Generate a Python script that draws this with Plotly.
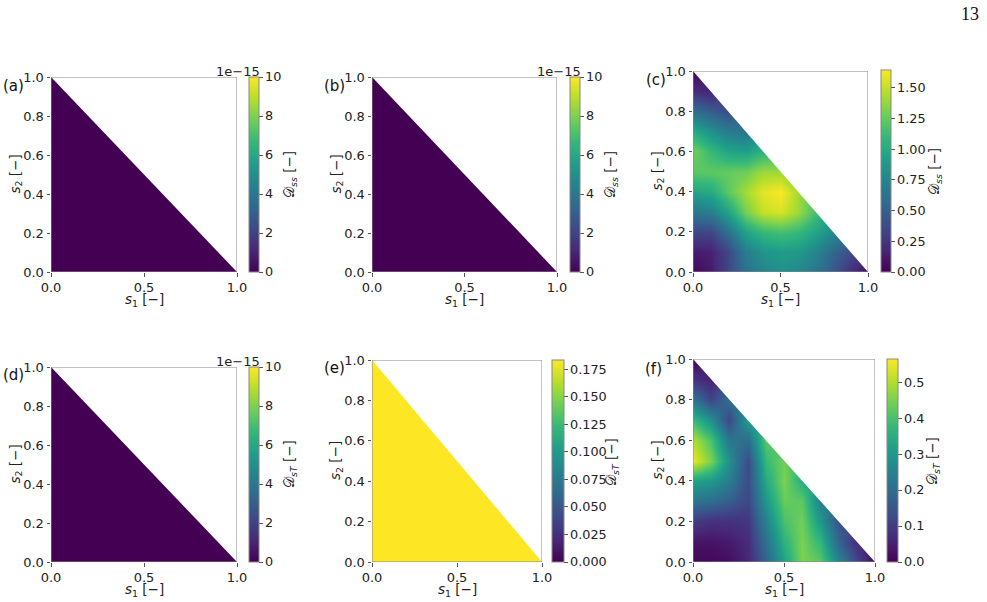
import plotly.graph_objects as go

W, H = 987, 602

# ---------------- data ----------------
S1 = [0.0, 0.1, 0.2, 0.3, 0.4, 0.5, 0.6, 0.7, 0.8, 0.9, 1.0]
S2 = [0.0, 0.1, 0.2, 0.3, 0.4, 0.5, 0.6, 0.7, 0.8, 0.9, 1.0]
EDGE = [0.0, 1.0]

# panels (a), (b), (d): values in units of 1e-15 (all zero)
Z_A = [[0.0, 0.0], [0.0, 0.0]]
Z_B = [[0.0, 0.0], [0.0, 0.0]]
Z_D = [[0.0, 0.0], [0.0, 0.0]]
# panel (e): constant field
Z_E = [[0.1833, 0.1833], [0.1833, 0.1833]]

# panel (c): D_ss, rows = s2, columns = s1 (None outside s1+s2<=1)
Z_C = [
    [0.02, 0.12, 0.35, 0.60, 0.75, 0.82, 0.78, 0.65, 0.45, 0.22, 0.02],
    [0.12, 0.15, 0.35, 0.70, 0.85, 0.90, 0.88, 0.75, 0.55, 0.38, None],
    [0.35, 0.35, 0.60, 0.95, 1.10, 1.15, 1.10, 0.95, 0.78, None, None],
    [0.65, 0.70, 0.95, 1.30, 1.50, 1.55, 1.40, 1.15, None, None, None],
    [0.95, 1.00, 1.22, 1.42, 1.58, 1.64, 1.42, None, None, None, None],
    [1.22, 1.22, 1.25, 1.28, 1.40, 1.40, None, None, None, None, None],
    [1.28, 1.10, 0.95, 0.92, 1.05, None, None, None, None, None, None],
    [1.00, 0.82, 0.68, 0.62, None, None, None, None, None, None, None],
    [0.60, 0.48, 0.38, None, None, None, None, None, None, None, None],
    [0.22, 0.15, None, None, None, None, None, None, None, None, None],
    [0.00, None, None, None, None, None, None, None, None, None, None],
]

# panel (f): D_sT
Z_F = [
    [0.01, 0.01, 0.02, 0.06, 0.18, 0.32, 0.45, 0.42, 0.25, 0.12, 0.00],
    [0.03, 0.03, 0.04, 0.07, 0.21, 0.36, 0.45, 0.37, 0.18, 0.07, None],
    [0.10, 0.08, 0.08, 0.09, 0.25, 0.40, 0.44, 0.30, 0.14, None, None],
    [0.22, 0.20, 0.17, 0.12, 0.30, 0.43, 0.42, 0.25, None, None, None],
    [0.32, 0.30, 0.24, 0.13, 0.34, 0.45, 0.35, None, None, None, None],
    [0.55, 0.45, 0.28, 0.13, 0.38, 0.44, None, None, None, None, None],
    [0.50, 0.40, 0.22, 0.20, 0.42, None, None, None, None, None, None],
    [0.38, 0.28, 0.12, 0.32, None, None, None, None, None, None, None],
    [0.22, 0.12, 0.20, None, None, None, None, None, None, None, None],
    [0.08, 0.05, None, None, None, None, None, None, None, None, None],
    [0.00, None, None, None, None, None, None, None, None, None, None],
]

X_TICKS = [0.0, 0.5, 1.0]
Y_TICKS = [0.0, 0.2, 0.4, 0.6, 0.8, 1.0]
CB_TICKS_E15 = [0, 2, 4, 6, 8, 10]
CB_TICKS_C = [0.0, 0.25, 0.5, 0.75, 1.0, 1.25, 1.5]
CB_TICKS_E = [0.0, 0.025, 0.05, 0.075, 0.1, 0.125, 0.15, 0.175]
CB_TICKS_F = [0.0, 0.1, 0.2, 0.3, 0.4, 0.5]
LABELS = ["(a)", "(b)", "(c)", "(d)", "(e)", "(f)"]
CB_TITLES = ["ss", "ss", "ss", "sT", "sT", "sT"]

# ---------------- layout geometry (pixels) ----------------
FONT = "DejaVu Sans"
FS = 13.0
TXT = "#222222"
SPINE = "#888888"

panels = [
    dict(x=EDGE, y=EDGE, z=Z_A, zmax=10.0, tv=CB_TICKS_E15, tt=[str(v) for v in CB_TICKS_E15],
         px0=51, px1=237, py0=77, py1=272, cbx=249, cbw=10, cby0=77, cby1=272, exp=True,
         lab=(26, 86), ttl=(290, 175)),
    dict(x=EDGE, y=EDGE, z=Z_B, zmax=10.0, tv=CB_TICKS_E15, tt=[str(v) for v in CB_TICKS_E15],
         px0=372, px1=557, py0=77, py1=272, cbx=570, cbw=10, cby0=77, cby1=272, exp=True,
         lab=(347, 86), ttl=(611, 175)),
    dict(x=S1, y=S2, z=Z_C, zmax=1.644, tv=CB_TICKS_C, tt=["%.2f" % v for v in CB_TICKS_C],
         px0=693, px1=868, py0=71, py1=272, cbx=881, cbw=10, cby0=70, cby1=272, exp=False,
         lab=(668, 80), ttl=(935, 172)),
    dict(x=EDGE, y=EDGE, z=Z_D, zmax=10.0, tv=CB_TICKS_E15, tt=[str(v) for v in CB_TICKS_E15],
         px0=51, px1=237, py0=367, py1=562, cbx=249, cbw=10, cby0=367, cby1=562, exp=True,
         lab=(26, 375), ttl=(290, 464)),
    dict(x=EDGE, y=EDGE, z=Z_E, zmax=0.1833, tv=CB_TICKS_E, tt=["%.3f" % v for v in CB_TICKS_E],
         px0=372, px1=542, py0=360, py1=562, cbx=552, cbw=12, cby0=360, cby1=562, exp=False,
         lab=(347, 368), ttl=(612, 462)),
    dict(x=S1, y=S2, z=Z_F, zmax=0.564, tv=CB_TICKS_F, tt=["%.1f" % v for v in CB_TICKS_F],
         px0=693, px1=875, py0=359, py1=562, cbx=887, cbw=11, cby0=359, cby1=562, exp=False,
         lab=(664, 369), ttl=(933, 461)),
]


def fx(p):
    return p / W


def fy(p):
    return 1 - p / H


fig = go.Figure()
shapes = []
annotations = []
layout = {}

for i, p in enumerate(panels):
    sfx = "" if i == 0 else str(i + 1)
    fig.add_trace(go.Heatmap(
        x=p["x"], y=p["y"], z=p["z"],
        xaxis="x" + sfx, yaxis="y" + sfx,
        colorscale="Viridis", zmin=0.0, zmax=p["zmax"],
        zsmooth="best", connectgaps=True, hoverinfo="skip",
        colorbar=dict(
            x=fx(p["cbx"]), xanchor="left", xpad=0,
            y=fy(p["cby0"]), yanchor="top", ypad=0,
            len=(p["cby1"] - p["cby0"]) / H, lenmode="fraction",
            thickness=p["cbw"], thicknessmode="pixels",
            outlinewidth=1, outlinecolor=SPINE,
            ticks="outside", ticklen=3.5, tickwidth=1, tickcolor="#555555",
            tickvals=p["tv"], ticktext=p["tt"],
            tickfont=dict(family=FONT, size=12.8, color=TXT),
        ),
    ))
    layout["xaxis" + sfx] = dict(
        domain=[fx(p["px0"]), fx(p["px1"])], range=[0, 1], anchor="y" + sfx,
        tickvals=X_TICKS, ticktext=["%.1f" % v for v in X_TICKS],
        ticks="outside", ticklen=3.5, tickwidth=1, tickcolor="#555555",
        showgrid=False, zeroline=False, showline=False, fixedrange=True, automargin=False,
        tickfont=dict(family=FONT, size=FS, color=TXT),
    )
    layout["yaxis" + sfx] = dict(
        domain=[fy(p["py1"]), fy(p["py0"])], range=[0, 1], anchor="x" + sfx,
        tickvals=Y_TICKS, ticktext=["%.1f" % v for v in Y_TICKS],
        ticks="outside", ticklen=3.5, tickwidth=1, tickcolor="#555555",
        showgrid=False, zeroline=False, showline=False, fixedrange=True, automargin=False,
        tickfont=dict(family=FONT, size=FS, color=TXT),
    )
    # mask region s1 + s2 > 1
    shapes.append(dict(type="path", path="M 0,1 L 1,1 L 1,0 Z",
                       xref="x" + sfx, yref="y" + sfx,
                       fillcolor="white", line=dict(width=0), layer="above"))
    # frame
    shapes.append(dict(type="rect", x0=0, x1=1, y0=0, y1=1,
                       xref="x" + sfx, yref="y" + sfx,
                       line=dict(color=SPINE, width=1), fillcolor="rgba(0,0,0,0)",
                       layer="above"))
    # panel label
    annotations.append(dict(text=LABELS[i], x=fx(p["lab"][0]), y=fy(p["lab"][1]),
                            xref="paper", yref="paper", xanchor="right", yanchor="middle",
                            showarrow=False, font=dict(family=FONT, size=FS + 2, color="#111111")))
    # axis titles
    annotations.append(dict(text="<i>s</i><sub>1</sub> [−]",
                            x=fx((p["px0"] + p["px1"]) / 2), y=fy(p["py1"] + 28),
                            xref="paper", yref="paper", xanchor="center", yanchor="middle",
                            showarrow=False, font=dict(family=FONT, size=FS + 0.5, color=TXT)))
    annotations.append(dict(text="<i>s</i><sub>2</sub> [−]",
                            x=fx(p["px0"] - 36), y=fy((p["py0"] + p["py1"]) / 2),
                            xref="paper", yref="paper", xanchor="center", yanchor="middle",
                            textangle=-90,
                            showarrow=False, font=dict(family=FONT, size=FS + 0.5, color=TXT)))
    # colorbar title
    annotations.append(dict(text="𝒟<sub><i>" + CB_TITLES[i] + "</i></sub> [−]",
                            x=fx(p["ttl"][0]), y=fy(p["ttl"][1]),
                            xref="paper", yref="paper", xanchor="center", yanchor="middle",
                            textangle=-90,
                            showarrow=False, font=dict(family=FONT, size=FS + 0.5, color=TXT)))
    if p["exp"]:
        annotations.append(dict(text="1e−15", x=fx(p["cbx"] + p["cbw"] / 2 - 16), y=fy(p["cby0"] - 6),
                                xref="paper", yref="paper", xanchor="center", yanchor="middle",
                                showarrow=False, font=dict(family=FONT, size=FS, color=TXT)))

annotations.append(dict(text="13", x=fx(970), y=fy(14), xref="paper", yref="paper",
                        xanchor="center", yanchor="middle", showarrow=False,
                        font=dict(family="Liberation Serif", size=18, color="#111111")))

fig.update_layout(
    width=W, height=H, margin=dict(l=0, r=0, t=0, b=0, autoexpand=False),
    paper_bgcolor="white", plot_bgcolor="white",
    showlegend=False, shapes=shapes, annotations=annotations,
    **layout,
)

fig.write_html("out.html", config={"displayModeBar": False})
